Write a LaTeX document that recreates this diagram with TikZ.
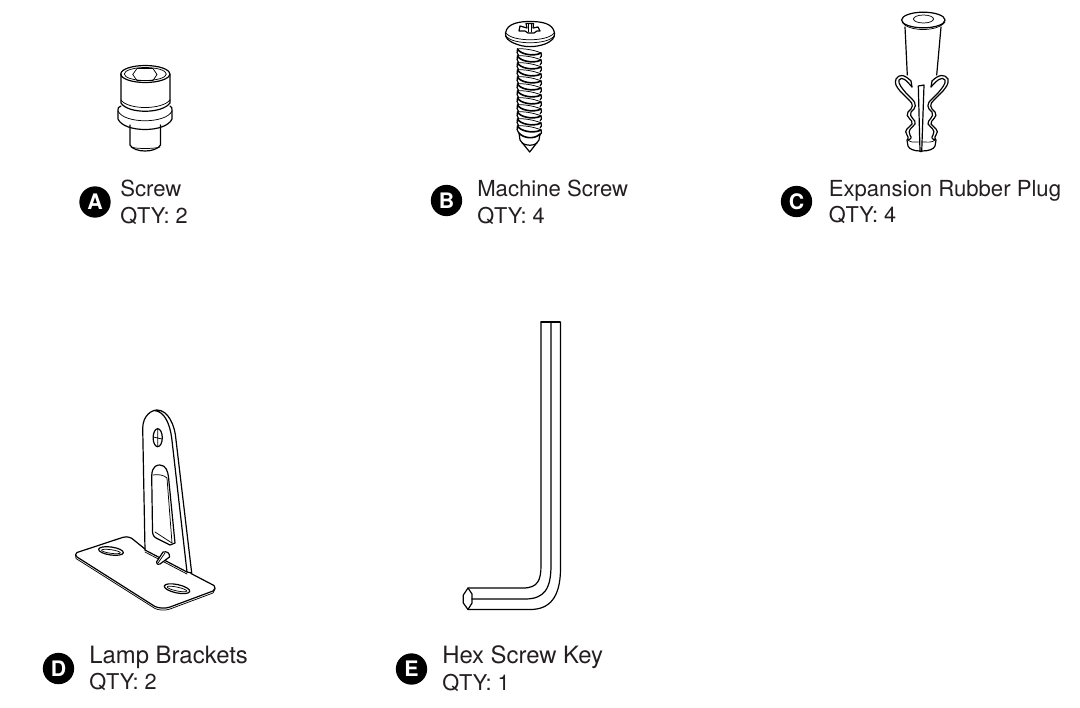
\documentclass[tikz,border=0pt]{standalone}
\usepackage{xcolor}
\usepackage{fontspec}
\setmainfont{TeX Gyre Heros}
\usepackage{tikz}
\definecolor{labelink}{HTML}{231F20}
\tikzset{
partline/.style={black, line width=0.9pt, line join=round, line cap=round},
thinline/.style={black, line width=0.55pt, line join=round, line cap=round},
badge/.style={circle, fill=black, text=white, inner sep=0pt, minimum size=23.5pt, font=\fontsize{16}{16}\selectfont\bfseries},
partlabel/.style={anchor=west, align=left, inner sep=0pt, text=labelink, font=\fontsize{16.3}{20}\selectfont},
}
% names in the lower row are set larger
\newcommand{\namesmall}[1]{{\fontsize{16.6}{20}\selectfont #1}}
\newcommand{\namelarge}[1]{{\fontsize{17.9}{20}\selectfont #1}}
% one turn of the thread on the screw B
\newcommand{\threadturn}[1]{
\draw[partline, line width=1.2pt] (517.5,#1) .. controls (520,#1+5) and (533,#1+8) .. (541,#1+4) ;
\draw[thinline] (517.5,#1) .. controls (522,#1-1) and (535,#1+1) .. (541,#1+4) ;
\draw[partline] (541,#1+4) .. controls (542,#1+6) and (541.5,#1+8) .. (540,#1+9) ;
\draw[partline] (517.5,#1) .. controls (516.5,#1+2) and (517,#1+5) .. (518.5,#1+6.5) ;
}
\begin{document}
\begin{tikzpicture}[x=0.75pt, y=-0.75pt]
\useasboundingbox (0,0) rectangle (1080,707);
% screw A
\draw[partline] (145.3,74) ellipse (24.5 and 8.5);
\draw[thinline] (145.3,74) ellipse (21 and 6.5);
\draw[thinline] (132.7,74.5) -- (137,68.5) -- (153,68.5) -- (157,74.5) -- (153,80.5) -- (137,80.5) -- cycle;
\draw[partline] (121,74) -- (121,103) .. controls (128,114) and (162,114) .. (170,103) -- (170,74) ;
\draw[thinline] (121,100) .. controls (128,110) and (162,110) .. (170,100) ;
\draw[partline] (121,106) .. controls (118,107) and (118,108) .. (118,110) -- (118,119) .. controls (124,133) and (166,133) .. (172,119) -- (172,110) .. controls (172,108) and (172,107) .. (170,106) ;
\draw[thinline] (118,111) .. controls (124,124) and (166,124) .. (172,111) ;
\draw[partline] (130,125) -- (130,145) .. controls (134,153) and (156,153) .. (160.5,145) -- (160.5,125) ;
\draw[thinline] (131,147) .. controls (136,149) and (154,149) .. (160,147) ;
% machine screw B
\draw[partline] (505.5,33) .. controls (507,23) and (520,21.5) .. (530,21.5) .. controls (541,21.5) and (553,23) .. (554.5,33) .. controls (555,38) and (552,41) .. (545,44) .. controls (535,47.5) and (525,47.5) .. (516,44) .. controls (508,41) and (505,38) .. (505.5,33) -- cycle;
\draw[thinline] (506,36) .. controls (512,45) and (548,45) .. (554,36) ;
\draw[thinline] (506,33) .. controls (512,42) and (548,42) .. (554,33) ;
\draw[partline] (526,23.5) -- (527,28) -- (520,26) -- (519,31) -- (525,31) -- (528,33) -- (534,33) -- (537,31) -- (540,31) -- (538,27) -- (533,28) -- (533.5,23.5) -- cycle;
\draw[thinline] (528.5,24) -- (528.5,32) (531,24) -- (531,32);
\threadturn{49}
\threadturn{56}
\threadturn{63}
\threadturn{70}
\threadturn{77}
\threadturn{84}
\threadturn{91}
\threadturn{98}
\threadturn{105}
\threadturn{112}
\threadturn{119}
\threadturn{126}
\draw[partline] (519,133) -- (520,140) -- (529.7,152) -- (539,140) -- (540,134) ;
\draw[partline, line width=1.2pt] (519,133) .. controls (523,138) and (534,140) .. (540,134) ;
\draw[partline] (522,143) .. controls (526,146) and (534,146) .. (537,143) ;
% expansion plug C
\draw[partline] (923.3,20) ellipse (21.7 and 7.8);
\draw[thinline] (923.5,19) ellipse (10 and 4);
\draw[thinline] (902,22) .. controls (908,32) and (938,32) .. (945,22) ;
\draw[partline] (905,27) -- (907.3,75) ;
\draw[partline] (941,27) -- (936.7,75) ;
\draw[partline] (911,81) .. controls (904,74) and (899,74) .. (896,79) .. controls (894,84) and (897,87) .. (900,91) -- (909,100) ;
\draw[partline] (912,87) .. controls (906,80) and (902,76) .. (899,80) .. controls (898,84) and (902,88) .. (906,93) -- (912,99) ;
\draw[partline] (932,81) .. controls (939,74) and (945,74) .. (948,79) .. controls (949,84) and (946,87) .. (943,91) -- (934,100) ;
\draw[partline] (931,87) .. controls (937,80) and (942,76) .. (945,80) .. controls (946,84) and (942,88) .. (938,93) -- (932,99) ;
\draw[partline] (911,81) -- (912,87) (932,81) -- (931,87) ;
\draw[partline] (909,100) .. controls (914,104) and (913,108) .. (908,112) .. controls (904,117) and (914,120) .. (912,124) .. controls (909,128) and (903,130) .. (907,135) .. controls (909,138) and (908,139) .. (907,140) -- (908,146) .. controls (909,149) and (914,151) .. (920,151) ;
\draw[partline] (912,99) .. controls (917,104) and (916,108) .. (911,112) .. controls (908,117) and (917,120) .. (915,124) .. controls (912,128) and (907,130) .. (910,135) .. controls (912,138) and (911,139) .. (908,140) ;
\draw[partline] (934,100) .. controls (929,104) and (930,108) .. (935,112) .. controls (939,117) and (930,120) .. (931,124) .. controls (934,128) and (940,130) .. (936,135) .. controls (934,138) and (935,139) .. (936,140) -- (935,146) .. controls (934,149) and (929,151) .. (922,151) ;
\draw[partline] (932,99) .. controls (926,104) and (927,108) .. (932,112) .. controls (935,117) and (927,120) .. (928,124) .. controls (931,128) and (936,130) .. (933,135) .. controls (931,138) and (932,139) .. (935,140) ;
\draw[thinline] (908,140) .. controls (911,143) and (915,142) .. (918.5,142) (935,140) .. controls (932,143) and (927,142) .. (922,142) ;
\draw[partline] (918.3,86) -- (924,85) -- (921.7,151.5) -- (920,151.5) -- cycle;
% lamp bracket D
\draw[partline] (145,549) -- (131.7,538.3) .. controls (128,536.5) and (125,536.5) .. (123,537.3) -- (77,552.5) .. controls (75,553.5) and (75,556) .. (77,557) -- (155,606.5) .. controls (158,608) and (165,609) .. (170,607) -- (213,591) .. controls (215.5,590) and (215.5,586.5) .. (214,585.5) -- (191,573.5) ;
\draw[thinline] (75.5,555) -- (76,558.5) -- (155,608.5) .. controls (158,610) and (165,611) .. (170,609) -- (213,593) -- (215,589) ;
\draw[partline] (145,550) -- (142.7,428) .. controls (143,415) and (152,410) .. (157,410) .. controls (168,410) and (175,425) .. (176,440) -- (191.7,573) -- (187,572) -- (171.7,438) .. controls (170,425) and (165,411) .. (154,410.5) ;
\draw[partline] (145,550) -- (187,572) ;
\draw[thinline] (145,552) -- (187,574) ;
\draw[partline] (157.7,437.7) ellipse (4.6 and 9);
\draw[thinline] (157.7,429) -- (157.7,446.5) (153.3,437) -- (162,439) ;
\draw[partline] (151.7,476) .. controls (152,465) and (158,465) .. (160,465) .. controls (166,465) and (168,472) .. (168.5,477) -- (175,543) -- (170,545) -- (156,538) .. controls (153,536) and (152.5,534) .. (152.5,530) -- cycle;
\draw[thinline] (153,475) .. controls (158,474) and (164,475) .. (167,478) -- (172,543) ;
\draw[thinline] (155,532) -- (172,543) ;
\draw[partline, fill=white] (156.7,561.7) -- (163,552) .. controls (167,551) and (170,553) .. (169.5,557) -- (160,564) .. controls (157,565) and (156,563) .. (156.7,561.7) -- cycle;
\draw[thinline] (158,563) -- (165,553) ;
\draw[partline, rotate around={-8:(111,551)}] (111,551) ellipse (12.5 and 4);
\draw[thinline, rotate around={-8:(111,551)}] (111,551.5) ellipse (9.5 and 1.8);
\draw[partline, rotate around={-12:(177,588.7)}] (177,588.7) ellipse (13 and 4.2);
\draw[thinline, rotate around={-12:(177,588.7)}] (177,589) ellipse (10 and 1.9);
% hex key E
\draw[partline] (541,322) -- (560,322) ;
\draw[partline] (541,322) -- (541,565) .. controls (541,580) and (538,588) .. (523,588) -- (468,588) ;
\draw[partline] (551,322) -- (551,565) .. controls (551,588) and (545,599) .. (525,599) -- (472,599) ;
\draw[partline] (560.5,322) -- (560.5,570) .. controls (560,597) and (550,609.5) .. (530,609.5) -- (468,609.5) ;
\draw[partline] (468,588) -- (463.3,595) -- (463.3,603) -- (468,609.5) -- (472,603) -- (472,594) -- cycle;
% labels
\node[badge] (badgeA) at (95,202) {A};
\node[partlabel] (labelA) at (120,202) {\namesmall{Screw}\\QTY: 2};
\node[badge] (badgeB) at (446.5,200.5) {B};
\node[partlabel] (labelB) at (477,202) {\namesmall{Machine Screw}\\QTY: 4};
\node[badge] (badgeC) at (796.5,201.5) {C};
\node[partlabel] (labelC) at (828.5,202) {\namesmall{Expansion Rubber Plug}\\QTY: 4};
\node[badge] (badgeD) at (58.5,668.5) {D};
\node[partlabel] (labelD) at (89,668.5) {\namelarge{Lamp Brackets}\\QTY: 2};
\node[badge] (badgeE) at (411.5,669) {E};
\node[partlabel] (labelE) at (442,668.5) {\namelarge{Hex Screw Key}\\QTY: 1};
\end{tikzpicture}
\end{document}
